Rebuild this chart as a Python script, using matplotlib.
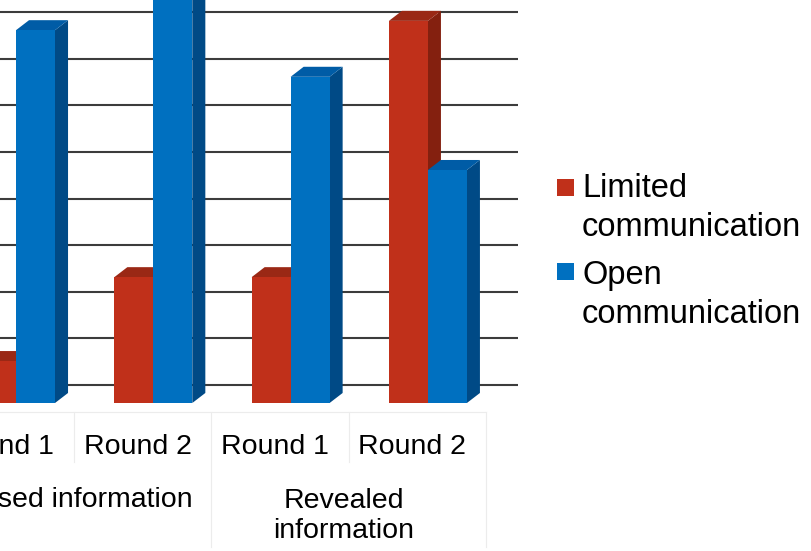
import matplotlib
matplotlib.use("Agg")
import matplotlib.pyplot as plt
from matplotlib.patches import Polygon, Rectangle

plt.rcParams["font.family"] = ["Liberation Sans", "DejaVu Sans"]

# ----------------------------------------------------------------
# Data
# ----------------------------------------------------------------
rounds = ["Round 1", "Round 2", "Round 1", "Round 2"]
groups = ["Closed information", "Revealed\ninformation"]
limited = [9, 27, 27, 82]
open_comm = [80, 90, 70, 50]
series = ["Limited\ncommunication", "Open\ncommunication"]

# face colours: front, side, top
RED = ("#c0301a", "#84200f", "#9a2815")
BLUE = ("#0070c0", "#004a86", "#005ca6")

BAR_W = 0.284      # width of one column (category units)
DX, DY = 0.095, 2.15   # depth offset of the 3d faces
WALL = 3.86        # back wall floor sits behind the bar floor
GRID_STEP = 10
LABEL_SHIFT = -0.114   # label cells are centred a little left of the bar pairs

fig = plt.figure(figsize=(8.11, 5.51), dpi=100)
ax = fig.add_axes([0, 0, 1, 1])
ax.set_xlim(-16 / 137.3, 795 / 137.3)
ax.set_ylim(-148 / 4.66, 403 / 4.66)
ax.axis("off")

# back wall gridlines
for k in range(9):
    ax.plot([-1, 3.656], [WALL + k * GRID_STEP] * 2, color="#3c3c3c",
            lw=1.5, zorder=1, solid_capstyle="butt")


def bar3d(x0, value, colors, z):
    x1 = x0 + BAR_W
    front, side, top = colors
    ax.add_patch(Polygon([(x1, 0), (x1 + DX, DY), (x1 + DX, value + DY), (x1, value)],
                         closed=True, fc=side, ec="none", zorder=z))
    ax.add_patch(Polygon([(x0, value), (x1, value), (x1 + DX, value + DY), (x0 + DX, value + DY)],
                         closed=True, fc=top, ec="none", zorder=z))
    ax.add_patch(Rectangle((x0, 0), BAR_W, value, fc=front, ec="none", zorder=z))


for i in range(len(rounds)):
    bar3d(i - BAR_W, limited[i], RED, 2 + 2 * i)
    bar3d(i, open_comm[i], BLUE, 3 + 2 * i)

# category table below the floor
sep = "#ececec"
v = lambda px: (403 - px) / 4.66
ax.plot([-1, 3.422], [v(412)] * 2, color=sep, lw=0.8, zorder=1)
for i, xb in enumerate([0.422, 1.422, 2.422, 3.422]):
    bottom = v(462) if i % 2 == 0 else v(547)
    ax.plot([xb, xb], [v(412), bottom], color=sep, lw=0.8, zorder=1)

for i, lab in enumerate(rounds):
    ax.text(i + LABEL_SHIFT, v(454), lab, ha="center", va="baseline", fontsize=20.5)

ax.text(0.422, v(507), groups[0], ha="center", va="baseline", fontsize=20.5)
ax.text(2.386, v(538), groups[1], ha="center", va="baseline", fontsize=20.5,
        linespacing=1.2)

# legend
for (y_sq, y_txt), lab, col in zip([(179, 236), (263, 323)], series, [RED[0], BLUE[0]]):
    fig.patches.append(Rectangle((557 / 811, 1 - (y_sq + 17) / 551), 17 / 811, 17 / 551,
                                 transform=fig.transFigure, fc=col, ec="none"))
    fig.text(582 / 811, 1 - y_txt / 551, lab, ha="left", va="baseline", fontsize=23.5,
             linespacing=1.33)

fig.savefig("out.png", dpi=100)
